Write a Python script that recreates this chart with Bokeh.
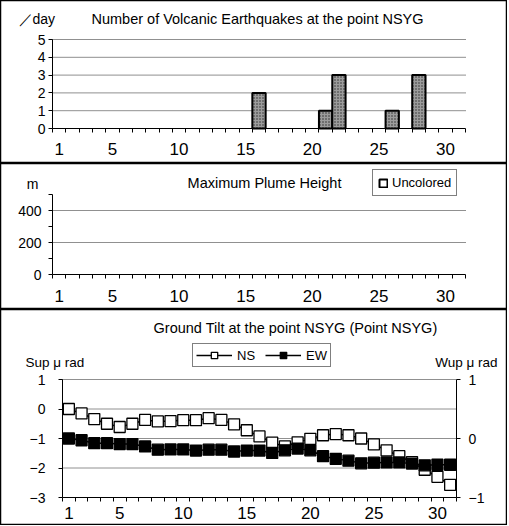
from bokeh.plotting import figure
from bokeh.models import FixedTicker, Label, Legend, LegendItem, LinearAxis, Range1d
from bokeh.layouts import column
from bokeh.embed import file_html
from bokeh.resources import INLINE

nan = float("nan")

# ---------------- data ----------------
days = list(range(1, 32))
x_tick_days = [1, 5, 10, 15, 20, 25, 30]

quake_counts = [0, 0, 0, 0, 0, 0, 0, 0, 0, 0,
                0, 0, 0, 0, 0, 2, 0, 0, 0, 0,
                1, 3, 0, 0, 0, 1, 0, 3, 0, 0,
                0]

# no plume observed on any day
plume_heights = [nan, nan, nan, nan, nan, nan, nan, nan, nan, nan,
                 nan, nan, nan, nan, nan, nan, nan, nan, nan, nan,
                 nan, nan, nan, nan, nan, nan, nan, nan, nan, nan,
                 nan]

# Ground tilt: NS on left axis (Sup micro-rad), EW on right axis (Wup micro-rad)
ns_tilt = [0.00, -0.15, -0.34, -0.50, -0.61, -0.50, -0.37, -0.42, -0.41, -0.38,
           -0.38, -0.31, -0.37, -0.52, -0.72, -0.93, -1.14, -1.27, -1.13, -1.01,
           -0.89, -0.85, -0.89, -1.00, -1.20, -1.40, -1.60, -1.80, -2.06, -2.30,
           -2.57]
ew_tilt = [0.000, -0.030, -0.080, -0.080, -0.095, -0.095, -0.135, -0.190, -0.185, -0.185,
           -0.205, -0.190, -0.190, -0.220, -0.205, -0.205, -0.245, -0.200, -0.170, -0.200,
           -0.300, -0.345, -0.375, -0.420, -0.410, -0.405, -0.405, -0.425, -0.455, -0.445,
           -0.445]

quake_range = (0, 5)
quake_yticks = [0, 1, 2, 3, 4, 5]
quake_grid = [1, 2, 3, 4, 5]
plume_range = (0, 500)
plume_yticks = [0, 200, 400]
plume_minor = [100, 300, 500]
plume_grid = [200, 400]
tilt_left_range = (-3, 1)
tilt_left_ticks = [-3, -2, -1, 0, 1]
tilt_grid = [-2, -1, 0, 1]
tilt_right_range = (-1, 1)
tilt_right_ticks = [-1, 0, 1]

X_RANGE = (0.5, 31.5)
FONT = "Liberation Sans"
W = 507


def uminus(ticks):
    return {t: str(t).replace("-", "\u2212") for t in ticks}


def span_range(r, lo_px, hi_px, before_px, after_px):
    d = (r[1] - r[0]) / (hi_px - lo_px)
    return Range1d(r[0] - before_px * d, r[1] + after_px * d)


def make_panel(H, box, yr, grid_ticks):
    left, right, top, bottom = box  # plot-area box in canvas pixels
    p = figure(width=W, height=H,
               x_range=span_range(X_RANGE, left, right, left, W - right),
               y_range=span_range(yr, top, bottom, H - bottom, top),
               x_axis_type=None, y_axis_type=None,
               output_backend="svg", toolbar_location=None,
               min_border_left=0, min_border_right=0, min_border_top=0, min_border_bottom=0,
               background_fill_color="white", border_fill_color="white")
    p.title.visible = False
    p.outline_line_color = "black"
    p.outline_line_width = 1.5
    n = len(grid_ticks)
    p.segment(x0=[X_RANGE[0]] * n, x1=[X_RANGE[1]] * n, y0=grid_ticks, y1=grid_ticks,
              line_color="#202020", line_dash="1 1", line_width=1)
    return p


def add_x(p, y_at, standoff):
    ax = LinearAxis(fixed_location=y_at, bounds=X_RANGE)
    ax.ticker = FixedTicker(ticks=x_tick_days,
                            minor_ticks=[d - 0.5 for d in days] + [days[-1] + 0.5])
    ax.major_tick_line_color = None
    ax.minor_tick_out = 4
    ax.minor_tick_in = 0
    ax.minor_tick_line_color = "black"
    ax.axis_line_color = "black"
    ax.major_label_text_font = FONT
    ax.major_label_text_font_size = "17px"
    ax.major_label_text_color = "black"
    ax.major_label_standoff = standoff
    p.add_layout(ax, "below")


def add_y(p, side, x_at, bounds, ticks, minor, standoff, overrides=None, range_name=None):
    kw = {"fixed_location": x_at, "bounds": bounds}
    if range_name:
        kw["y_range_name"] = range_name
    ax = LinearAxis(**kw)
    ax.ticker = FixedTicker(ticks=ticks, minor_ticks=minor)
    ax.major_tick_out = 4
    ax.major_tick_in = 0
    ax.major_tick_line_color = "black"
    ax.minor_tick_out = 4
    ax.minor_tick_in = 0
    ax.minor_tick_line_color = "black" if minor else None
    ax.axis_line_color = "black"
    ax.major_label_text_font = FONT
    ax.major_label_text_font_size = "14px"
    ax.major_label_text_color = "black"
    ax.major_label_standoff = standoff
    if overrides:
        ax.major_label_overrides = overrides
    p.add_layout(ax, side)


def text_label(p, H, cx, cy, txt, align="center", size="14px"):
    p.add_layout(Label(x=cx, y=H - cy, x_units="screen", y_units="screen", text=txt,
                       text_font=FONT, text_font_size=size, text_color="black",
                       text_align=align, text_baseline="middle"))


def legend(items, cx, cy_bottom, H, **kw):
    return Legend(items=items, location=(cx, H - cy_bottom), orientation="horizontal",
                  label_text_font=FONT, label_text_font_size="13px", label_text_color="black",
                  border_line_color="black", border_line_width=1,
                  background_fill_color="white", background_fill_alpha=1, margin=0, **kw)


# ---------------- panel 1: earthquakes ----------------
H1 = 163
p1 = make_panel(H1, (52, 465, 39, 128), quake_range, quake_grid)
bar_days = [d for d, c in zip(days, quake_counts) if c > 0]
bar_counts = [c for c in quake_counts if c > 0]
p1.vbar(x=bar_days, top=bar_counts, width=1.0, fill_color="#9c9c9c",
        hatch_pattern="dot", hatch_color="#2a2a2a", hatch_scale=3, hatch_weight=1,
        line_color="black", line_width=2)
add_x(p1, quake_range[0], 8)
add_y(p1, "left", X_RANGE[0], quake_range, quake_yticks, [], 3)
text_label(p1, H1, 18, 18, "\uff0fday", align="left")
text_label(p1, H1, 257, 18, "Number of Volcanic Earthquakes at the point NSYG", size="14.5px")

# ---------------- panel 2: plume ----------------
H2 = 146
p2 = make_panel(H2, (52, 465, 31, 111), plume_range, plume_grid)
plume_r = p2.vbar(x=days, top=plume_heights, width=0.8, fill_color="white",
                  line_color="black", line_width=2)
add_x(p2, plume_range[0], 9)
add_y(p2, "left", X_RANGE[0], plume_range, plume_yticks, plume_minor, 7)
text_label(p2, H2, 32, 20, "m")
text_label(p2, H2, 264, 19, "Maximum Plume Height", size="14.5px")
p2.add_layout(legend([LegendItem(label="Uncolored", renderers=[plume_r])], 372, 33, H2,
                     glyph_width=10, glyph_height=10, padding=5, label_standoff=4,
                     label_height=8), "center")

# ---------------- panel 3: tilt ----------------
H3 = 216
box3 = (62, 456, 70, 188)
p3 = make_panel(H3, box3, tilt_left_range, tilt_grid)
p3.extra_y_ranges = {"right": span_range(tilt_right_range, box3[2], box3[3], H3 - box3[3], box3[2])}
ns_line = p3.line(days, ns_tilt, line_color="black", line_width=1.5)
ns_pts = p3.scatter(days, ns_tilt, marker="square", size=11, fill_color="white",
                    line_color="black", line_width=1.3)
ew_line = p3.line(days, ew_tilt, line_color="black", line_width=1.5, y_range_name="right")
ew_pts = p3.scatter(days, ew_tilt, marker="square", size=11, fill_color="black",
                    line_color="black", line_width=1.3, y_range_name="right")
add_x(p3, tilt_left_range[0], 3)
add_y(p3, "left", X_RANGE[0], tilt_left_range, tilt_left_ticks, [], 13, uminus(tilt_left_ticks))
add_y(p3, "right", X_RANGE[1], tilt_right_range, tilt_right_ticks, [], 8,
      uminus(tilt_right_ticks), range_name="right")
text_label(p3, H3, 295, 18, "Ground Tilt at the point NSYG (Point NSYG)", size="14.5px")
text_label(p3, H3, 25, 53, "Sup \u03bc rad", align="left", size="13.5px")
text_label(p3, H3, 497, 53, "Wup \u03bc rad", align="right", size="13.5px")
p3.add_layout(legend([LegendItem(label="NS", renderers=[ns_line, ns_pts]),
                      LegendItem(label="EW", renderers=[ew_line, ew_pts])], 192, 58, H3,
                     glyph_width=36, glyph_height=16, padding=3, spacing=8,
                     label_standoff=5, label_height=12), "center")

layout = column(p1, p2, p3, spacing=0)
open("out.html", "w").write(file_html(layout, INLINE))
